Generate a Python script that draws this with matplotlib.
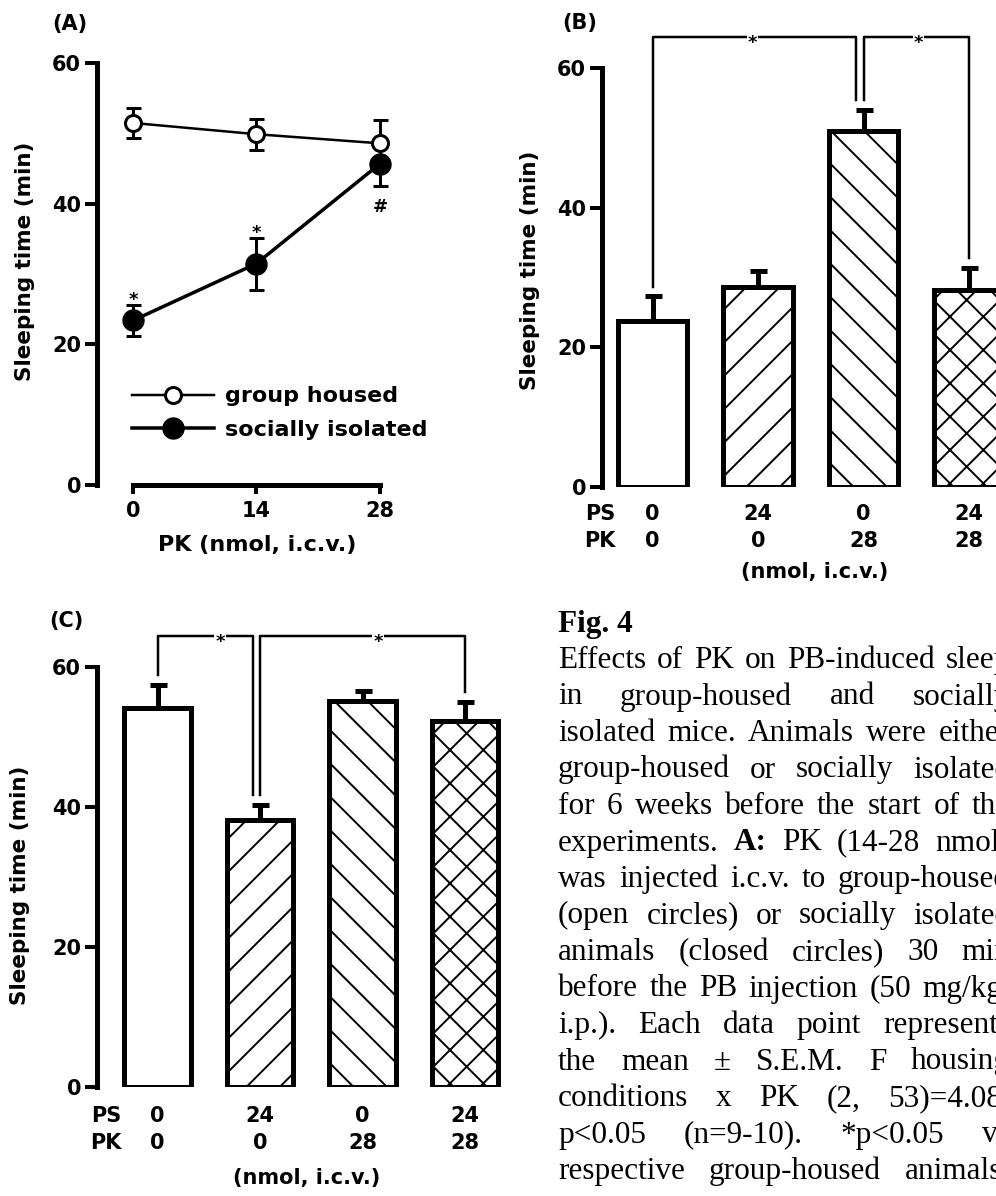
import matplotlib
matplotlib.use("Agg")
import matplotlib.pyplot as plt

W, H = 996, 1196
DPI = 100
PT = 72 / DPI  # points per pixel

plt.rcParams['font.family'] = ['DejaVu Sans']
plt.rcParams['font.weight'] = 'bold'
plt.rcParams['axes.labelweight'] = 'bold'
plt.rcParams['hatch.linewidth'] = 1.4
plt.rcParams['hatch.color'] = 'black'

# --- (A) PK dose response ---
pk_dose = [0, 14, 28]
group_mean = [51.5, 49.9, 48.6]
group_sem = [2.1, 2.2, 3.3]
iso_mean = [23.4, 31.5, 45.7]
iso_sem = [2.2, 3.7, 3.2]
iso_marks = ['*', '*', '#']

# --- (B) and (C) PS / PK combinations ---
ps_dose = [0, 24, 0, 24]
pk_bar = [0, 0, 28, 28]
hatches = ['', '/', '\\', 'x']
b_mean = [23.8, 28.6, 51.0, 28.2]
b_sem = [3.5, 2.3, 3.0, 3.2]
c_mean = [54.2, 38.2, 55.2, 52.3]
c_sem = [3.2, 2.1, 1.4, 2.7]
# significance brackets: (left bar, right bar, star position)
b_pairs = [(0, 2, 0.95), (2, 3, 2.52)]
c_pairs = [(0, 1, 0.61), (1, 3, 2.15)]

caption = [
    "Effects of PK on PB-induced sleep",
    "in group-housed and socially",
    "isolated mice. Animals were either",
    "group-housed or socially isolated",
    "for 6 weeks before the start of the",
    "experiments. A: PK (14-28 nmol)",
    "was injected i.c.v. to group-housed",
    "(open circles) or socially isolated",
    "animals (closed circles) 30 min",
    "before the PB injection (50 mg/kg,",
    "i.p.). Each data point represents",
    "the mean \u00b1 S.E.M. F housing",
    "conditions x PK (2, 53)=4.08,",
    "p<0.05 (n=9-10). *p<0.05 vs",
    "respective group-housed animals.",
]

fig = plt.figure(figsize=(W / DPI, H / DPI), dpi=DPI)
fig.patch.set_facecolor('white')


def make_axes(x0, xs, xlim, y0, ys, ylim):
    left = x0 + xlim[0] * xs
    right = x0 + xlim[1] * xs
    bottom = y0 - ylim[0] * ys
    top = y0 - ylim[1] * ys
    ax = fig.add_axes([left / W, 1 - bottom / H, (right - left) / W, (bottom - top) / H])
    ax.set_xlim(xlim)
    ax.set_ylim(ylim)
    ax.patch.set_alpha(0)
    ax.px = (left, top, right, bottom)
    return ax


def px2ax(ax, x, y):
    l, t, r, b = ax.px
    return (x - l) / (r - l), (b - y) / (b - t)


def style_y(ax):
    for s in ['top', 'right']:
        ax.spines[s].set_visible(False)
    ax.spines['left'].set_linewidth(5 * PT)
    ax.spines['left'].set_bounds(0, 60)
    ax.set_yticks([0, 20, 40, 60])
    ax.tick_params(axis='y', direction='out', length=12 * PT, width=4 * PT,
                   pad=4 * PT, labelsize=15)


TXT = 15

# ================= (A) =================
axA = make_axes(133, 8.82, (-4.08, 31), 485, 7.03, (0, 60))
style_y(axA)
axA.spines['bottom'].set_linewidth(5 * PT)
axA.spines['bottom'].set_bounds(0, 28)
axA.set_xticks(pk_dose)
axA.tick_params(axis='x', direction='out', length=9 * PT, width=4 * PT,
                pad=7 * PT, labelsize=TXT)

iso = axA.errorbar(pk_dose, iso_mean, yerr=iso_sem, fmt='-o', color='black',
                   lw=3.5 * PT, ms=21 * PT, mfc='black', mec='black',
                   elinewidth=3 * PT, capsize=7.5 * PT, capthick=3 * PT,
                   zorder=2, clip_on=False, label='socially isolated')
grp = axA.errorbar(pk_dose, group_mean, yerr=group_sem, fmt='-o', color='black',
                   lw=2.5 * PT, ms=16 * PT, mfc='white', mec='black', mew=3 * PT,
                   elinewidth=3 * PT, capsize=7.5 * PT, capthick=3 * PT,
                   zorder=3, clip_on=False, label='group housed')

for x, m, e, mk in zip(pk_dose, iso_mean, iso_sem, iso_marks):
    if mk == '*':
        axA.annotate(mk, (x, m + e), xytext=(0, 0), textcoords='offset points',
                     ha='center', va='baseline', fontsize=13)
    else:
        axA.annotate(mk, (x, m - e), xytext=(0, -26 * PT), textcoords='offset points',
                     ha='center', va='baseline', fontsize=13)

leg = axA.legend(handles=[grp[0], iso[0]], labels=['group housed', 'socially isolated'],
                 loc='center left', bbox_to_anchor=px2ax(axA, 132, 413),
                 bbox_transform=axA.transAxes, frameon=False, fontsize=16,
                 handlelength=3.7, handletextpad=0.5, labelspacing=0.6,
                 borderaxespad=0, borderpad=0)

axA.set_xlabel('PK (nmol, i.c.v.)', fontsize=16, va='center')
axA.xaxis.set_label_coords(*px2ax(axA, 257, 545))
axA.set_ylabel('Sleeping time (min)', fontsize=15.5, va='center')
axA.yaxis.set_label_coords(*px2ax(axA, 25, 261))
fig.text(70 / W, 1 - 24 / H, '(A)', fontsize=15, ha='center', va='center')


# ================= bar panels =================
def bar_panel(ax, spine_x, means, sems, pairs, bw, label_px, ylabel_px, tick_pad,
              bracket_y=64.4):
    style_y(ax)
    ax.spines['bottom'].set_visible(False)
    ax.spines['left'].set_position(('data', spine_x))
    xs = list(range(len(means)))
    for x, m, h in zip(xs, means, hatches):
        ax.bar(x, m, width=bw, color='white', edgecolor='black',
               linewidth=5 * PT, hatch=h, zorder=2)
    ax.errorbar(xs, means, yerr=[[0] * len(sems), sems], fmt='none', ecolor='black',
                elinewidth=5 * PT, capsize=8.5 * PT, capthick=5 * PT, zorder=1)
    tops = [m + s for m, s in zip(means, sems)]
    for i, j, sx in pairs:
        xi, xj = i, j
        # the bar shared by two brackets gets a split vertical
        if any(p[0] == j for p in pairs):
            xj = j - 0.07
        ax.plot([xi, xi, xj, xj], [tops[i] + 1.4, bracket_y, bracket_y, tops[j] + 1.4],
                color='black', lw=2.5 * PT, clip_on=False, zorder=3)
        ax.annotate('*', (sx, bracket_y), xytext=(0, -11 * PT), textcoords='offset points',
                    ha='center', va='baseline', fontsize=13, annotation_clip=False,
                    bbox=dict(boxstyle='square,pad=0.05', fc='white', ec='none'), zorder=4)
    ax.set_xticks([-0.5] + xs)
    ax.set_xticklabels(['PS\nPK'] + [f'{p}\n{k}' for p, k in zip(ps_dose, pk_bar)],
                       linespacing=1.45)
    ax.tick_params(axis='x', length=0, pad=tick_pad * PT, labelsize=TXT)
    ax.set_xlabel('(nmol, i.c.v.)', fontsize=TXT, va='center')
    ax.xaxis.set_label_coords(*px2ax(ax, *label_px))
    ax.set_ylabel('Sleeping time (min)', fontsize=15.5, va='center')
    ax.yaxis.set_label_coords(*px2ax(ax, *ylabel_px))


axB = make_axes(652.5, 105.5, (-0.6, 3.6), 487, 6.983, (0, 60))
bar_panel(axB, -0.478, b_mean, b_sem, b_pairs, 0.66, (815, 572), (530, 270), 17)
fig.text(580 / W, 1 - 23 / H, '(B)', fontsize=15, ha='center', va='center')

axC = make_axes(157.5, 102.5, (-0.7, 3.5), 1087, 7.0, (0, 60))
bar_panel(axC, -0.59, c_mean, c_sem, c_pairs, 0.65, (307, 1178), (20, 885), 19)
fig.text(66 / W, 1 - 621 / H, '(C)', fontsize=15, ha='center', va='center')

# ================= caption =================
SERIF = ['Liberation Serif', 'DejaVu Serif']
CAP = 22.5
x_left, x_right = 558, 1010
fig.text(x_left / W, 1 - 632 / H, 'Fig. 4', fontsize=CAP, family=SERIF,
         fontweight='bold', va='baseline')
renderer = fig.canvas.get_renderer()
for i, line in enumerate(caption):
    y = 668 + 36.5 * i
    words = line.split()
    texts = [fig.text(0, 1 - y / H, w, fontsize=CAP, family=SERIF, va='baseline',
                      fontweight='bold' if w == 'A:' else 'normal') for w in words]
    widths = [t.get_window_extent(renderer).width for t in texts]
    gap = (x_right - x_left - sum(widths)) / max(len(words) - 1, 1)
    x = x_left
    for t, w in zip(texts, widths):
        t.set_x(x / W)
        x += w + gap

fig.savefig('out.png', dpi=DPI, facecolor='white')
